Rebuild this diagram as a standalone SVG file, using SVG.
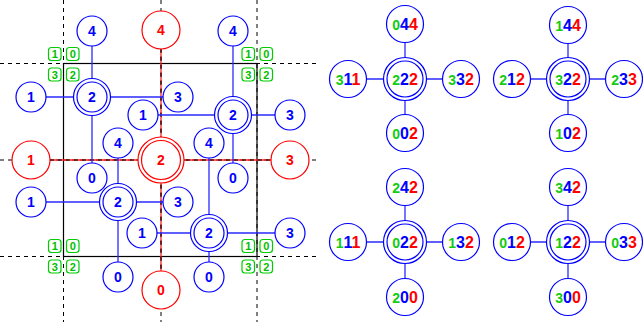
<svg xmlns="http://www.w3.org/2000/svg" width="643" height="322" viewBox="0 0 643 322">
<style>
.bg{fill:#fff}
.dash{stroke:#000;stroke-width:1;stroke-dasharray:4 4;fill:none}
.frame{stroke:#000;stroke-width:1.2;fill:none}
.bl{stroke:#2a2aff;stroke-width:1.3;fill:none}
.rl{stroke:#ff2020;stroke-width:1.3;fill:none}
.bc{stroke:#0000ff;stroke-width:1.2;fill:#fff}
.bci{stroke:#0000ff;stroke-width:1.2;fill:none}
.rc{stroke:#ff0000;stroke-width:1.2;fill:#fff}
.rci{stroke:#ff0000;stroke-width:1.2;fill:none}
.t{font-family:"Liberation Sans",Arial,sans-serif;font-weight:bold;text-anchor:middle}
.tb{fill:#0000ff;font-size:14px}
.tr{fill:#ff0000;font-size:14px}
.gb{stroke:#00cc00;stroke-width:1.2;fill:#fff}
.tg{fill:#00c000;font-size:11px}
.big{font-size:16px}
.g{fill:#11cc11;font-size:14px}
.b{fill:#0000ff}
.r{fill:#ff0000}
</style>
<rect class="bg" x="0" y="0" width="643" height="322"/>
<g id="grid">
<line class="dash" x1="0" y1="63.5" x2="320" y2="63.5"/>
<line class="dash" x1="0" y1="256.5" x2="320" y2="256.5"/>
<line class="dash" x1="63.5" y1="0" x2="63.5" y2="322"/>
<line class="dash" x1="257" y1="0" x2="257" y2="322"/>
<line class="dash" x1="0" y1="160" x2="320" y2="160"/>
<line class="dash" x1="161" y1="0" x2="161" y2="322"/>
<rect class="frame" x="63.5" y="63.5" width="193.5" height="193"/>
</g>
<g id="connectors">
<line class="rl" x1="161" y1="30" x2="161" y2="290"/>
<line class="rl" x1="31" y1="160" x2="290" y2="160"/>
<line class="dash" x1="161" y1="49" x2="161" y2="271"/>
<line class="dash" x1="50" y1="160" x2="271" y2="160"/>
<line class="bl" x1="92" y1="31" x2="92" y2="178"/>
<line class="bl" x1="31" y1="97" x2="178" y2="97"/>
<line class="bl" x1="233" y1="31" x2="233" y2="178"/>
<line class="bl" x1="143" y1="115" x2="290" y2="115"/>
<line class="bl" x1="118" y1="143" x2="118" y2="277"/>
<line class="bl" x1="31" y1="202" x2="178" y2="202"/>
<line class="bl" x1="209" y1="143" x2="209" y2="277"/>
<line class="bl" x1="142" y1="233" x2="290" y2="233"/>
<line class="bl" x1="405" y1="24" x2="405" y2="133"/>
<line class="bl" x1="348" y1="79" x2="461" y2="79"/>
<line class="bl" x1="568" y1="25" x2="568" y2="133"/>
<line class="bl" x1="512" y1="79" x2="624" y2="79"/>
<line class="bl" x1="405" y1="187" x2="405" y2="297"/>
<line class="bl" x1="348" y1="242" x2="461" y2="242"/>
<line class="bl" x1="568" y1="187" x2="568" y2="297"/>
<line class="bl" x1="512" y1="242" x2="624" y2="242"/>
</g>
<g id="labels-green">
<g id="gUL"><rect class="gb" x="48.5" y="47.5" width="12.5" height="13" rx="3"/><text class="t tg" x="54.7" y="58">1</text>
<rect class="gb" x="66.5" y="47.5" width="12.5" height="13" rx="3"/><text class="t tg" x="72.7" y="58">0</text>
<rect class="gb" x="48.5" y="68" width="12.5" height="13" rx="3"/><text class="t tg" x="54.7" y="78.5">3</text>
<rect class="gb" x="66.5" y="68" width="12.5" height="13" rx="3"/><text class="t tg" x="72.7" y="78.5">2</text></g>
<g id="gUR"><rect class="gb" x="242" y="47.5" width="12.5" height="13" rx="3"/><text class="t tg" x="248.2" y="58">1</text>
<rect class="gb" x="260" y="47.5" width="12.5" height="13" rx="3"/><text class="t tg" x="266.2" y="58">0</text>
<rect class="gb" x="242" y="68" width="12.5" height="13" rx="3"/><text class="t tg" x="248.2" y="78.5">3</text>
<rect class="gb" x="260" y="68" width="12.5" height="13" rx="3"/><text class="t tg" x="266.2" y="78.5">2</text></g>
<g id="gLL"><rect class="gb" x="48.5" y="239.5" width="12.5" height="13" rx="3"/><text class="t tg" x="54.7" y="250">1</text>
<rect class="gb" x="66.5" y="239.5" width="12.5" height="13" rx="3"/><text class="t tg" x="72.7" y="250">0</text>
<rect class="gb" x="48.5" y="260" width="12.5" height="13" rx="3"/><text class="t tg" x="54.7" y="270.5">3</text>
<rect class="gb" x="66.5" y="260" width="12.5" height="13" rx="3"/><text class="t tg" x="72.7" y="270.5">2</text></g>
<g id="gLR"><rect class="gb" x="242" y="239.5" width="12.5" height="13" rx="3"/><text class="t tg" x="248.2" y="250">1</text>
<rect class="gb" x="260" y="239.5" width="12.5" height="13" rx="3"/><text class="t tg" x="266.2" y="250">0</text>
<rect class="gb" x="242" y="260" width="12.5" height="13" rx="3"/><text class="t tg" x="248.2" y="270.5">3</text>
<rect class="gb" x="260" y="260" width="12.5" height="13" rx="3"/><text class="t tg" x="266.2" y="270.5">2</text></g>
</g>
<g id="r4"><circle class="rc" cx="161" cy="30" r="19"/><text class="t tr" x="161" y="35">4</text></g>
<g id="r1"><circle class="rc" cx="31" cy="160" r="19"/><text class="t tr" x="31" y="165">1</text></g>
<g id="r3"><circle class="rc" cx="290" cy="160" r="19"/><text class="t tr" x="290" y="165">3</text></g>
<g id="r0"><circle class="rc" cx="161" cy="290" r="19"/><text class="t tr" x="161" y="295">0</text></g>
<g id="r2"><circle class="rc" cx="161" cy="160" r="23"/><circle class="rci" cx="161" cy="160" r="19.5"/><text class="t tr" x="161" y="165">2</text></g>
<g id="b4a"><circle class="bc" cx="92" cy="31" r="15"/><text class="t tb" x="92" y="36">4</text></g>
<g id="b1a"><circle class="bc" cx="31" cy="97" r="15"/><text class="t tb" x="31" y="102">1</text></g>
<g id="b3a"><circle class="bc" cx="178" cy="97" r="15"/><text class="t tb" x="178" y="102">3</text></g>
<g id="b0a"><circle class="bc" cx="92" cy="178" r="15"/><text class="t tb" x="92" y="183">0</text></g>
<g id="b2a"><circle class="bc" cx="92" cy="97" r="18.5"/><circle class="bci" cx="92" cy="97" r="15"/><text class="t tb" x="92" y="102">2</text></g>
<g id="b4c"><circle class="bc" cx="233" cy="31" r="15"/><text class="t tb" x="233" y="36">4</text></g>
<g id="b1b"><circle class="bc" cx="143" cy="115" r="15"/><text class="t tb" x="143" y="120">1</text></g>
<g id="b3b"><circle class="bc" cx="290" cy="115" r="15"/><text class="t tb" x="290" y="120">3</text></g>
<g id="b0b"><circle class="bc" cx="233" cy="178" r="15"/><text class="t tb" x="233" y="183">0</text></g>
<g id="b2b"><circle class="bc" cx="233" cy="115" r="18.5"/><circle class="bci" cx="233" cy="115" r="15"/><text class="t tb" x="233" y="120">2</text></g>
<g id="b4b"><circle class="bc" cx="118" cy="143" r="15"/><text class="t tb" x="118" y="148">4</text></g>
<g id="b1c"><circle class="bc" cx="31" cy="202" r="15"/><text class="t tb" x="31" y="207">1</text></g>
<g id="b3c"><circle class="bc" cx="178" cy="202" r="15"/><text class="t tb" x="178" y="207">3</text></g>
<g id="b0c"><circle class="bc" cx="118" cy="277" r="15"/><text class="t tb" x="118" y="282">0</text></g>
<g id="b2c"><circle class="bc" cx="118" cy="202" r="18.5"/><circle class="bci" cx="118" cy="202" r="15"/><text class="t tb" x="118" y="207">2</text></g>
<g id="b4d"><circle class="bc" cx="209" cy="143" r="15"/><text class="t tb" x="209" y="148">4</text></g>
<g id="b1d"><circle class="bc" cx="142" cy="233" r="15"/><text class="t tb" x="142" y="238">1</text></g>
<g id="b3d"><circle class="bc" cx="290" cy="233" r="15"/><text class="t tb" x="290" y="238">3</text></g>
<g id="b0d"><circle class="bc" cx="209" cy="277" r="15"/><text class="t tb" x="209" y="282">0</text></g>
<g id="b2d"><circle class="bc" cx="209" cy="233" r="18.5"/><circle class="bci" cx="209" cy="233" r="15"/><text class="t tb" x="209" y="238">2</text></g>
<g id="A-top"><circle class="bc" cx="405" cy="24" r="18.5"/><text class="t big" x="405" y="30"><tspan class="g">0</tspan><tspan class="b">4</tspan><tspan class="r">4</tspan></text></g>
<g id="A-left"><circle class="bc" cx="348" cy="79" r="18.5"/><text class="t big" x="348" y="85"><tspan class="g">3</tspan><tspan class="b">1</tspan><tspan class="r">1</tspan></text></g>
<g id="A-right"><circle class="bc" cx="461" cy="79" r="18.5"/><text class="t big" x="461" y="85"><tspan class="g">3</tspan><tspan class="b">3</tspan><tspan class="r">2</tspan></text></g>
<g id="A-bottom"><circle class="bc" cx="405" cy="133" r="18.5"/><text class="t big" x="405" y="139"><tspan class="g">0</tspan><tspan class="b">0</tspan><tspan class="r">2</tspan></text></g>
<g id="A-center"><circle class="bc" cx="405" cy="79" r="21.5"/><circle class="bci" cx="405" cy="79" r="18"/><text class="t big" x="405" y="85"><tspan class="g">2</tspan><tspan class="b">2</tspan><tspan class="r">2</tspan></text></g>
<g id="B-top"><circle class="bc" cx="568" cy="25" r="18.5"/><text class="t big" x="568" y="31"><tspan class="g">1</tspan><tspan class="b">4</tspan><tspan class="r">4</tspan></text></g>
<g id="B-left"><circle class="bc" cx="512" cy="79" r="18.5"/><text class="t big" x="512" y="85"><tspan class="g">2</tspan><tspan class="b">1</tspan><tspan class="r">2</tspan></text></g>
<g id="B-right"><circle class="bc" cx="624" cy="79" r="18.5"/><text class="t big" x="624" y="85"><tspan class="g">2</tspan><tspan class="b">3</tspan><tspan class="r">3</tspan></text></g>
<g id="B-bottom"><circle class="bc" cx="568" cy="133" r="18.5"/><text class="t big" x="568" y="139"><tspan class="g">1</tspan><tspan class="b">0</tspan><tspan class="r">2</tspan></text></g>
<g id="B-center"><circle class="bc" cx="568" cy="79" r="21.5"/><circle class="bci" cx="568" cy="79" r="18"/><text class="t big" x="568" y="85"><tspan class="g">3</tspan><tspan class="b">2</tspan><tspan class="r">2</tspan></text></g>
<g id="C-top"><circle class="bc" cx="405" cy="187" r="18.5"/><text class="t big" x="405" y="193"><tspan class="g">2</tspan><tspan class="b">4</tspan><tspan class="r">2</tspan></text></g>
<g id="C-left"><circle class="bc" cx="348" cy="242" r="18.5"/><text class="t big" x="348" y="248"><tspan class="g">1</tspan><tspan class="b">1</tspan><tspan class="r">1</tspan></text></g>
<g id="C-right"><circle class="bc" cx="461" cy="242" r="18.5"/><text class="t big" x="461" y="248"><tspan class="g">1</tspan><tspan class="b">3</tspan><tspan class="r">2</tspan></text></g>
<g id="C-bottom"><circle class="bc" cx="405" cy="297" r="18.5"/><text class="t big" x="405" y="303"><tspan class="g">2</tspan><tspan class="b">0</tspan><tspan class="r">0</tspan></text></g>
<g id="C-center"><circle class="bc" cx="405" cy="242" r="21.5"/><circle class="bci" cx="405" cy="242" r="18"/><text class="t big" x="405" y="248"><tspan class="g">0</tspan><tspan class="b">2</tspan><tspan class="r">2</tspan></text></g>
<g id="D-top"><circle class="bc" cx="568" cy="187" r="18.5"/><text class="t big" x="568" y="193"><tspan class="g">3</tspan><tspan class="b">4</tspan><tspan class="r">2</tspan></text></g>
<g id="D-left"><circle class="bc" cx="512" cy="242" r="18.5"/><text class="t big" x="512" y="248"><tspan class="g">0</tspan><tspan class="b">1</tspan><tspan class="r">2</tspan></text></g>
<g id="D-right"><circle class="bc" cx="624" cy="242" r="18.5"/><text class="t big" x="624" y="248"><tspan class="g">0</tspan><tspan class="b">3</tspan><tspan class="r">3</tspan></text></g>
<g id="D-bottom"><circle class="bc" cx="568" cy="297" r="18.5"/><text class="t big" x="568" y="303"><tspan class="g">3</tspan><tspan class="b">0</tspan><tspan class="r">0</tspan></text></g>
<g id="D-center"><circle class="bc" cx="568" cy="242" r="21.5"/><circle class="bci" cx="568" cy="242" r="18"/><text class="t big" x="568" y="248"><tspan class="g">1</tspan><tspan class="b">2</tspan><tspan class="r">2</tspan></text></g>
</svg>
